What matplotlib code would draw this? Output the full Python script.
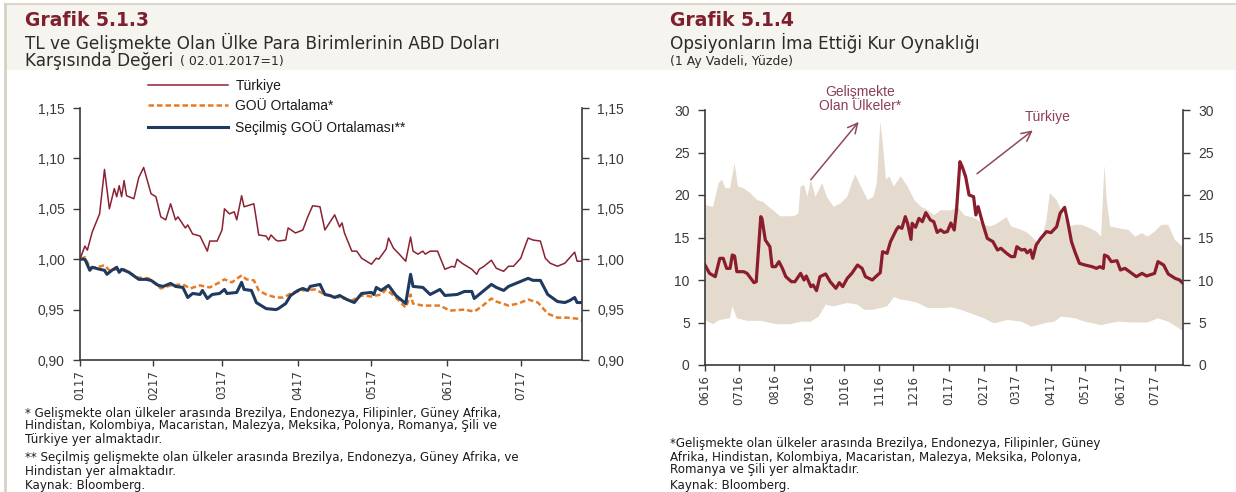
import matplotlib
matplotlib.use("Agg")
import matplotlib.pyplot as plt
import matplotlib.ticker as mticker
from matplotlib.patches import Rectangle
from matplotlib.lines import Line2D
import numpy as np
import pandas as pd

# ---- Grafik 5.1.3 : days counted from 2017-01-01 ----
left_base = pd.Timestamp("2017-01-01")
tr_days = [1, 3, 4, 6, 9, 11, 13, 15, 16, 17, 18, 19, 20, 23, 25, 27, 30, 32, 34, 36,
           38, 40, 41, 44, 45, 47, 50, 53, 54, 57, 59, 60, 62, 64, 65, 67, 68, 72, 74, 77,
           78, 79, 81, 82, 85, 86, 89, 92, 94, 96, 99, 101, 105, 107, 108, 109, 112, 114, 116, 120,
           122, 123, 126, 127, 129, 131, 134, 136, 137, 139, 141, 142, 144, 147, 150, 153, 154, 155, 157, 159,
           161, 163, 164, 166, 169, 171, 174, 176, 178, 181, 182, 184, 186, 189, 191, 193, 196, 199, 203, 204,
           206]
tr_vals = [1.000, 1.013, 1.009, 1.027, 1.045, 1.089, 1.050, 1.070, 1.062, 1.073, 1.062, 1.078, 1.063, 1.060, 1.081, 1.091, 1.065, 1.062, 1.042, 1.039,
           1.055, 1.039, 1.042, 1.031, 1.034, 1.025, 1.023, 1.008, 1.018, 1.018, 1.029, 1.050, 1.045, 1.047, 1.039, 1.063, 1.052, 1.055, 1.024, 1.023,
           1.019, 1.024, 1.019, 1.018, 1.019, 1.031, 1.026, 1.029, 1.042, 1.053, 1.052, 1.029, 1.044, 1.032, 1.036, 1.026, 1.008, 1.008, 1.001, 0.995,
           1.001, 1.000, 1.010, 1.021, 1.011, 1.006, 0.998, 1.022, 1.008, 1.005, 1.008, 1.005, 1.008, 1.008, 0.990, 0.993, 0.992, 1.000, 0.996, 0.993,
           0.990, 0.985, 0.990, 0.993, 0.999, 0.991, 0.988, 0.993, 0.993, 1.001, 1.008, 1.021, 1.019, 1.018, 1.001, 0.996, 0.993, 0.996, 1.007, 0.998,
           0.998]

gou_days = [1, 3, 5, 8, 11, 13, 16, 19, 24, 29, 32, 34, 38, 43, 46, 50, 54, 58, 60, 63,
            67, 69, 72, 74, 77, 81, 84, 88, 92, 97, 101, 103, 107, 112, 116, 120, 124, 126, 130, 134,
            136, 137, 141, 148, 152, 158, 162, 165, 169, 171, 176, 180, 184, 188, 192, 196, 200, 204, 206]
gou_vals = [1.000, 1.002, 0.992, 0.992, 0.994, 0.989, 0.990, 0.990, 0.982, 0.981, 0.975, 0.971, 0.974, 0.975, 0.971, 0.974, 0.972, 0.977, 0.980, 0.977,
            0.984, 0.980, 0.979, 0.969, 0.965, 0.962, 0.962, 0.967, 0.969, 0.970, 0.965, 0.964, 0.962, 0.959, 0.964, 0.963, 0.965, 0.970, 0.962, 0.952,
            0.965, 0.956, 0.954, 0.954, 0.949, 0.950, 0.948, 0.953, 0.961, 0.958, 0.954, 0.956, 0.960, 0.957, 0.946, 0.942, 0.942, 0.941, 0.939]

sec_days = [1, 3, 5, 6, 9, 11, 12, 14, 16, 17, 18, 21, 25, 28, 30, 33, 35, 38, 40, 43,
            45, 47, 50, 51, 53, 55, 58, 60, 61, 65, 67, 68, 71, 73, 77, 81, 82, 85, 87, 90,
            92, 94, 95, 99, 101, 103, 105, 107, 110, 113, 116, 120, 121, 122, 124, 127, 130, 134, 136, 137,
            141, 144, 148, 150, 155, 158, 161, 162, 165, 169, 171, 174, 176, 181, 184, 186, 189, 192, 196, 199,
            201, 203, 204, 206]
sec_vals = [1.000, 1.000, 0.989, 0.992, 0.990, 0.989, 0.985, 0.989, 0.992, 0.987, 0.990, 0.987, 0.980, 0.980, 0.979, 0.974, 0.973, 0.976, 0.973, 0.972,
            0.962, 0.966, 0.965, 0.969, 0.961, 0.965, 0.966, 0.970, 0.966, 0.967, 0.977, 0.970, 0.969, 0.957, 0.951, 0.950, 0.951, 0.956, 0.964, 0.969,
            0.971, 0.969, 0.973, 0.975, 0.965, 0.964, 0.962, 0.964, 0.960, 0.957, 0.966, 0.967, 0.965, 0.972, 0.969, 0.974, 0.964, 0.956, 0.985, 0.973,
            0.972, 0.965, 0.970, 0.964, 0.965, 0.968, 0.968, 0.961, 0.967, 0.975, 0.972, 0.969, 0.973, 0.978, 0.981, 0.979, 0.979, 0.965, 0.958, 0.957,
            0.959, 0.962, 0.957, 0.957]

left_ticks = ["2017-01-02", "2017-02-01", "2017-03-01", "2017-04-01", "2017-05-01", "2017-06-01", "2017-07-01"]
left_ticklabels = ["0117", "0217", "0317", "0417", "0517", "0617", "0717"]

# ---- Grafik 5.1.4 : days counted from 2016-06-01 ----
right_base = pd.Timestamp("2016-06-01")
vol_days = [0, 4, 9, 13, 16, 19, 22, 24, 26, 28, 34, 37, 43, 45, 49, 50, 53, 57, 59, 62,
            65, 68, 71, 76, 79, 84, 87, 89, 93, 95, 98, 101, 106, 110, 115, 118, 121, 125, 129, 134,
            138, 141, 147, 150, 154, 156, 160, 163, 168, 170, 173, 176, 178, 181, 182, 185, 188, 191, 194, 198,
            201, 204, 207, 210, 213, 216, 219, 221, 224, 226, 229, 232, 236, 238, 240, 244, 248, 253, 257, 260,
            265, 269, 272, 274, 278, 281, 283, 286, 288, 291, 295, 300, 304, 309, 312, 316, 319, 322, 325, 329,
            334, 340, 344, 347, 350, 351, 354, 357, 362, 365, 369, 373, 379, 384, 388, 395, 398, 403, 407, 413,
            417, 420]
vol_tr = [11.76, 10.78, 10.39, 12.55, 12.55, 11.37, 11.37, 12.94, 12.82, 10.98, 10.98, 10.78, 9.69, 9.8, 17.45, 17.25, 14.7, 13.92, 11.57, 11.57,
          12.16, 11.37, 10.39, 9.8, 9.8, 10.78, 10.0, 10.47, 9.22, 9.41, 8.75, 10.39, 10.71, 9.8, 9.02, 9.69, 9.22, 10.2, 10.78, 11.76,
          11.37, 10.39, 10.0, 10.39, 10.86, 13.33, 13.14, 14.51, 15.88, 16.27, 16.08, 17.45, 16.67, 14.78, 16.67, 16.2, 17.25, 16.86, 17.92, 17.06,
          16.86, 15.6, 15.9, 15.6, 15.7, 16.7, 15.88, 18.24, 23.92, 23.33, 22.16, 20.0, 19.8, 17.65, 18.63, 16.67, 14.9, 14.51, 13.53, 13.73,
          13.14, 12.75, 12.75, 13.92, 13.53, 13.6, 13.2, 13.53, 12.55, 14.12, 14.9, 15.69, 15.57, 16.27, 17.84, 18.55, 16.67, 14.51, 13.33, 11.96,
          11.76, 11.57, 11.37, 11.57, 11.37, 12.94, 12.75, 12.16, 12.27, 11.18, 11.37, 10.98, 10.39, 10.78, 10.47, 10.78, 12.16, 11.76, 10.71, 10.2,
          10.0, 9.61]

em_hi_days = [0, 1, 7, 12, 15, 18, 22, 26, 29, 34, 40, 46, 51, 56, 60, 66, 78, 82, 84, 87,
              90, 93, 97, 103, 107, 113, 119, 125, 129, 132, 137, 143, 148, 151, 154, 156, 159, 162, 166, 172,
              178, 184, 190, 196, 201, 207, 216, 222, 228, 237, 245, 251, 256, 265, 269, 278, 284, 290, 295, 300,
              303, 309, 313, 319, 325, 331, 338, 344, 348, 351, 353, 356, 363, 372, 378, 384, 389, 395, 401, 407,
              413, 420]
em_hi = [19.8, 18.8, 18.6, 21.4, 21.8, 20.8, 20.8, 23.7, 21.0, 20.8, 20.2, 19.4, 19.2, 18.6, 18.2, 17.5, 17.5, 17.8, 21.0, 21.2,
         19.8, 21.8, 19.8, 21.4, 19.8, 18.6, 19.0, 19.8, 21.4, 22.4, 21.0, 19.4, 19.8, 21.4, 28.6, 26.5, 21.8, 22.2, 21.0, 22.2,
         21.0, 19.4, 18.6, 18.2, 17.6, 18.2, 18.2, 18.6, 17.6, 17.3, 16.5, 16.3, 16.6, 17.4, 16.3, 15.9, 15.5, 14.7, 14.3, 17.1,
         20.2, 19.4, 18.2, 16.3, 16.5, 16.5, 16.1, 15.7, 15.1, 23.5, 19.4, 16.3, 16.1, 15.9, 15.1, 15.5, 15.1, 15.7, 16.5, 16.5,
         14.7, 13.9]

em_lo_days = [0, 7, 13, 22, 24, 28, 37, 49, 63, 75, 84, 93, 100, 106, 113, 125, 134, 140, 148, 154,
              160, 166, 172, 178, 187, 196, 210, 216, 225, 237, 245, 254, 266, 278, 287, 298, 307, 313, 325, 334,
              348, 363, 375, 389, 398, 407, 419, 420]
em_lo = [5.3, 4.8, 5.3, 5.5, 6.9, 5.5, 5.2, 5.2, 4.8, 4.8, 5.1, 5.1, 5.7, 7.1, 6.9, 7.3, 7.1, 6.5, 6.5, 6.7,
         6.9, 8.0, 7.7, 7.6, 7.3, 6.7, 6.7, 6.8, 6.5, 5.9, 5.5, 4.9, 5.3, 5.1, 4.5, 4.9, 5.1, 5.7, 5.5, 5.1,
         4.7, 5.1, 5.0, 5.0, 5.5, 5.1, 4.1, 3.9]

right_ticklabels = ["0616", "0716", "0816", "0916", "1016", "1116", "1216",
                    "0117", "0217", "0317", "0417", "0517", "0617", "0717"]

# colours
maroon = "#8b2232"
orange = "#e87a24"
navy = "#1f3a5f"
band = "#e4dacd"
title_red = "#7e1f2f"
note_col = "#8c3f55"
spine_col = "#3a3a3a"

W, H = 1236, 492


def fx(px):
    return px / W


def fy(py):
    return 1 - py / H


def to_dates(base, days):
    return base + pd.to_timedelta(days, unit="D")


fig = plt.figure(figsize=(W / 100, H / 100), dpi=100)
fig.patch.set_facecolor("white")

# header bands and frame lines
fig.add_artist(Rectangle((fx(5), fy(70)), fx(W - 5), fy(5) - fy(70), transform=fig.transFigure,
                         facecolor="#f6f4ee", edgecolor="none", zorder=0))
fig.add_artist(Line2D([fx(5), 1], [fy(4), fy(4)], transform=fig.transFigure, color="#dcd6cc", lw=1.5))
fig.add_artist(Line2D([fx(5), fx(5)], [fy(4), 0], transform=fig.transFigure, color="#d9d0c3", lw=2))

title_font = "DejaVu Sans"
sub_kw = dict(fontsize=12.2, color="#2b2b2b", family=title_font, va="center")
small_kw = dict(fontsize=9, color="#2b2b2b", family=title_font, va="center")

fig.text(fx(25), fy(20), "Grafik 5.1.3", fontsize=13.5, fontweight="bold", color=title_red,
         family=title_font, va="center")
fig.text(fx(25), fy(43), "TL ve Gelişmekte Olan Ülke Para Birimlerinin ABD Doları", **sub_kw)
t_kar = fig.text(fx(25), fy(61), "Karşısında Değeri", **sub_kw)
fig.add_artist(plt.Annotation("( 02.01.2017=1)", xy=(1, 0.5), xycoords=t_kar, xytext=(5, 0),
                              textcoords="offset points", ha="left", **small_kw))

fig.text(fx(670), fy(20), "Grafik 5.1.4", fontsize=13.5, fontweight="bold", color=title_red,
         family=title_font, va="center")
fig.text(fx(670), fy(43), "Opsiyonların İma Ettiği Kur Oynaklığı", **sub_kw)
fig.text(fx(670), fy(61), "(1 Ay Vadeli, Yüzde)", **small_kw)


def style_axis(ax):
    ax.spines["top"].set_visible(False)
    for side in ["left", "right", "bottom"]:
        ax.spines[side].set_color(spine_col)
        ax.spines[side].set_linewidth(1.2)
    ax.tick_params(axis="y", which="both", left=True, right=True, labelleft=True, labelright=True,
                   direction="out", length=5, width=1, colors=spine_col, labelsize=10, pad=6)
    ax.tick_params(axis="x", direction="out", length=4, width=1, colors=spine_col, labelsize=8.5,
                   labelrotation=90, pad=3)
    for lab in ax.get_yticklabels():
        lab.set_family("Liberation Sans")
    ax.set_facecolor("none")


# ---- left chart ----
axL = fig.add_axes([fx(80), fy(360), fx(582) - fx(80), fy(108) - fy(360)])
axL.plot(to_dates(left_base, tr_days), tr_vals, color=maroon, lw=1.1, label="Türkiye")
axL.plot(to_dates(left_base, gou_days), gou_vals, color=orange, lw=1.8, dashes=(2.2, 1.2),
         label="GOÜ Ortalama*")
axL.plot(to_dates(left_base, sec_days), sec_vals, color=navy, lw=2.2, label="Seçilmiş GOÜ Ortalaması**")
axL.set_xlim(to_dates(left_base, [1])[0], to_dates(left_base, [206])[0])
axL.set_ylim(0.90, 1.15)
axL.set_yticks(np.arange(0.90, 1.151, 0.05))
axL.yaxis.set_major_formatter(mticker.FuncFormatter(lambda v, p: f"{v:.2f}".replace(".", ",")))
axL.set_xticks(pd.to_datetime(left_ticks))
axL.set_xticklabels(left_ticklabels)
style_axis(axL)

leg = axL.legend(loc="upper left", bbox_to_anchor=(0.135, 1.115), frameon=False, borderpad=0,
                 borderaxespad=0, handlelength=5.8, handletextpad=0.5, labelspacing=0.45,
                 prop={"family": "Liberation Sans", "size": 10})
for t in leg.get_texts():
    t.set_color("#1a1a1a")

# ---- right chart ----
axR = fig.add_axes([fx(705), fy(365), fx(1183) - fx(705), fy(110) - fy(365)])
band_x = np.concatenate([to_dates(right_base, em_hi_days).values,
                         to_dates(right_base, em_lo_days).values[::-1]])
band_y = np.concatenate([np.array(em_hi), np.array(em_lo)[::-1]])
axR.fill(band_x, band_y, color=band, lw=0)
axR.plot(to_dates(right_base, vol_days), vol_tr, color="#8a1c2c", lw=2.3)
axR.set_xlim(to_dates(right_base, [0])[0], to_dates(right_base, [420])[0])
axR.set_ylim(0, 30)
axR.set_yticks(range(0, 31, 5))
axR.set_xticks(pd.date_range("2016-06-01", "2017-07-01", freq="MS"))
axR.set_xticklabels(right_ticklabels)
style_axis(axR)

arrow_kw = dict(arrowstyle="->,head_length=0.7,head_width=0.35", color="#8e4a58", lw=1.1,
                shrinkA=0, shrinkB=0)
axR.annotate("", xy=(to_dates(right_base, [135])[0], 28.6), xytext=(to_dates(right_base, [93])[0], 21.8),
             arrowprops=arrow_kw, annotation_clip=False)
axR.annotate("", xy=(to_dates(right_base, [288])[0], 27.6), xytext=(to_dates(right_base, [239])[0], 22.5),
             arrowprops=arrow_kw, annotation_clip=False)
axR.text(to_dates(right_base, [136])[0], 31.3, "Gelişmekte\nOlan Ülkeler*", ha="center", va="center",
         fontsize=10, color=note_col, family="Liberation Sans", linespacing=1.0, clip_on=False)
axR.text(to_dates(right_base, [301])[0], 29.2, "Türkiye", ha="center", va="center",
         fontsize=10, color=note_col, family="Liberation Sans", clip_on=False)

# ---- footnotes ----
note_kw = dict(fontsize=8.6, color="#1a1a1a", family=title_font, va="center")
left_notes = [
    (413, "* Gelişmekte olan ülkeler arasında Brezilya, Endonezya, Filipinler, Güney Afrika,"),
    (426, "Hindistan, Kolombiya, Macaristan, Malezya, Meksika, Polonya, Romanya, Şili ve"),
    (440, "Türkiye yer almaktadır."),
    (458, "** Seçilmiş gelişmekte olan ülkeler arasında Brezilya, Endonezya, Güney Afrika, ve"),
    (471, "Hindistan yer almaktadır."),
    (486, "Kaynak: Bloomberg."),
]
for y, s in left_notes:
    fig.text(fx(25), fy(y), s, **note_kw)
right_notes = [
    (444, "*Gelişmekte olan ülkeler arasında Brezilya, Endonezya, Filipinler, Güney"),
    (457, "Afrika, Hindistan, Kolombiya, Macaristan, Malezya, Meksika, Polonya,"),
    (470, "Romanya ve Şili yer almaktadır."),
    (486, "Kaynak: Bloomberg."),
]
for y, s in right_notes:
    fig.text(fx(670), fy(y), s, **note_kw)

fig.savefig("out.png", dpi=100)
